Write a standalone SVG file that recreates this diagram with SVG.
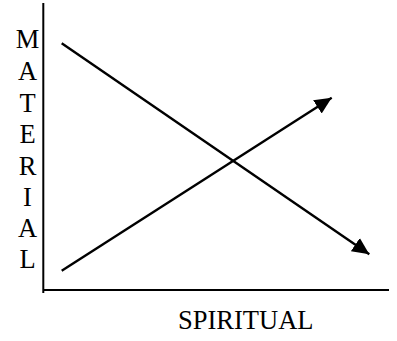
<svg xmlns="http://www.w3.org/2000/svg" width="397" height="341" viewBox="0 0 397 341">
<style>
.t{font-family:"Liberation Serif","Times New Roman",serif;font-size:26.5px;fill:#000}
.ax{stroke:#000;stroke-width:2;fill:none}
.ln{stroke:#000;stroke-width:2.4;fill:none}
</style>
<defs>
<marker id="ah" markerUnits="userSpaceOnUse" markerWidth="20" markerHeight="18" refX="17" refY="8" orient="auto" viewBox="0 0 20 16">
<path d="M0,0 L17,8 L0,16 Z" fill="#000"/>
</marker>
</defs>
<g id="axes">
<line class="ax" x1="43.3" y1="3" x2="43.3" y2="293"/>
<line class="ax" x1="43" y1="290" x2="389" y2="290"/>
</g>
<g id="y-label">
<text class="t" x="27.5" y="48" text-anchor="middle">M</text>
<text class="t" x="27.5" y="80" text-anchor="middle">A</text>
<text class="t" x="27.5" y="112" text-anchor="middle">T</text>
<text class="t" x="27.5" y="143" text-anchor="middle">E</text>
<text class="t" x="27.5" y="175" text-anchor="middle">R</text>
<text class="t" x="27.5" y="206" text-anchor="middle">I</text>
<text class="t" x="27.5" y="237" text-anchor="middle">A</text>
<text class="t" x="27.5" y="268" text-anchor="middle">L</text>
</g>
<g id="x-label">
<text class="t" x="178" y="329">SPIRITUAL</text>
</g>
<g id="connectors">
<line class="ln" x1="61.7" y1="43.3" x2="369.3" y2="254.3" marker-end="url(#ah)"/>
<line class="ln" x1="61.7" y1="270.7" x2="331.7" y2="97.7" marker-end="url(#ah)"/>
</g>
</svg>
